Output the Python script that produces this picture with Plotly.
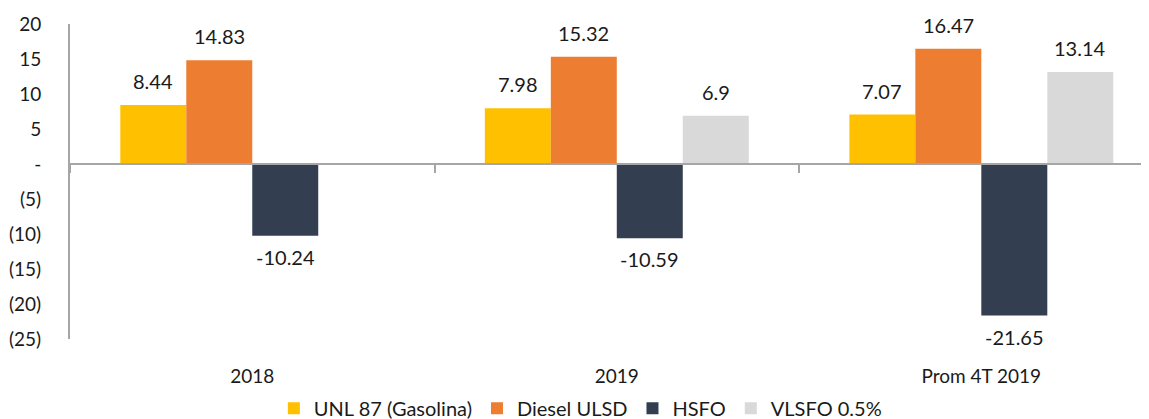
import plotly.graph_objects as go

CATEGORIES = ["2018", "2019", "Prom 4T 2019"]
UNL87 = [8.44, 7.98, 7.07]
DIESEL = [14.83, 15.32, 16.47]
HSFO = [-10.24, -10.59, -21.65]
VLSFO = [None, 6.9, 13.14]

SERIES = [
    ("UNL 87 (Gasolina)", UNL87, "#FFC000"),
    ("Diesel ULSD", DIESEL, "#ED7D31"),
    ("HSFO", HSFO, "#333F50"),
    ("VLSFO 0.5%", VLSFO, "#D9D9D9"),
]

Y_TICKVALS = [-25, -20, -15, -10, -5, 0, 5, 10, 15, 20]
Y_TICKTEXT = ["(25)", "(20)", "(15)", "(10)", "(5)", "-", "5", "10", "15", "20"]

FONT = "Lato"
TEXT = "#1a1a1a"
AXIS_GREY = "#A6A6A6"
Y_MIN, Y_MAX = -25, 20
X_RANGE = [-0.5, 2.46]
BAR_PX = 66  # pixel width of one bar, used to place value labels

fig = go.Figure()

for name, vals, color in SERIES:
    fig.add_trace(go.Bar(
        name=name, x=CATEGORIES, y=vals,
        marker=dict(color=color, line=dict(width=0)),
    ))

# helper trace so the zero-line axis (x2) is drawn
fig.add_trace(go.Scatter(
    x=CATEGORIES, y=UNL87, xaxis="x2", mode="none",
    showlegend=False, hoverinfo="skip",
))

# value labels (x given as category index: "2018" would be read as a number)
for k, (name, vals, color) in enumerate(SERIES):
    for i, v in enumerate(vals):
        if v is None:
            continue
        fig.add_annotation(
            x=i, y=v, xref="x", yref="y",
            text=f"{v:g}", showarrow=False,
            xshift=(k - 1.5) * BAR_PX,
            yshift=24 if v >= 0 else -21,
            yanchor="middle",
            font=dict(family=FONT, size=20, color=TEXT),
        )

zero_pos = (0 - Y_MIN) / (Y_MAX - Y_MIN)

# the page body has an 8px margin, so the figure is 8px smaller than the window
fig.update_layout(
    width=1141, height=411,
    margin=dict(l=62, r=0, t=16, b=80, autoexpand=False),
    paper_bgcolor="white", plot_bgcolor="white",
    barmode="group", bargap=0.276, bargroupgap=0,
    font=dict(family=FONT, size=20, color=TEXT),
    xaxis=dict(
        type="category", categoryarray=CATEGORIES, range=X_RANGE,
        showline=False, showgrid=False, zeroline=False, ticks="",
        ticklabelstandoff=24, automargin=False,
        tickfont=dict(family=FONT, size=19, color=TEXT),
    ),
    xaxis2=dict(
        type="category", categoryarray=CATEGORIES, range=X_RANGE,
        overlaying="x", anchor="free", position=zero_pos,
        showline=True, linecolor=AXIS_GREY, linewidth=2,
        ticks="outside", tickson="boundaries", ticklen=8, tickwidth=2,
        tickcolor=AXIS_GREY, showticklabels=False, showgrid=False,
        automargin=False,
    ),
    yaxis=dict(
        range=[Y_MIN, Y_MAX], tickvals=Y_TICKVALS, ticktext=Y_TICKTEXT,
        showline=True, linecolor=AXIS_GREY, linewidth=2,
        showgrid=False, zeroline=False, ticks="",
        ticklabelstandoff=23, automargin=False,
        tickfont=dict(family=FONT, size=19, color=TEXT),
    ),
    legend=dict(
        orientation="h", x=0.473, xanchor="center", y=-0.22, yanchor="middle",
        font=dict(family=FONT, size=20, color=TEXT),
        bgcolor="rgba(0,0,0,0)",
        itemclick=False, itemdoubleclick=False,
    ),
    showlegend=True,
)

fig.write_html("out.html")
